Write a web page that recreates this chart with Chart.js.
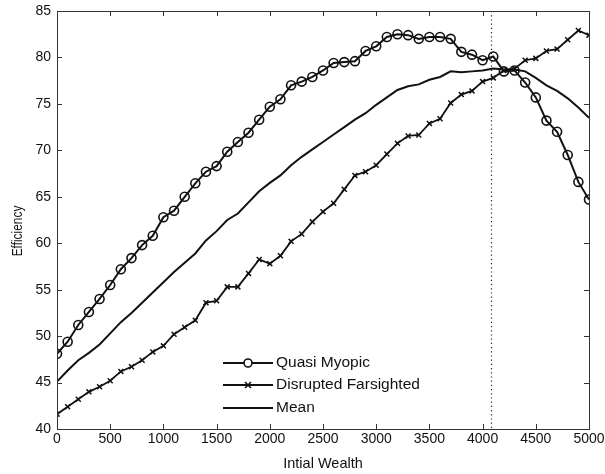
<!DOCTYPE html>
<html>
<head>
<meta charset="utf-8">
<script src="https://cdn.jsdelivr.net/npm/chart.js@4/dist/chart.umd.min.js"></script>
<style>
  html, body { margin: 0; padding: 0; background: #fff; }
  #wrap { width: 605px; height: 474px; position: relative; }
</style>
</head>
<body>
<div id="wrap"><canvas id="c" width="605" height="474"></canvas></div>
<script>
// Initial wealth levels (x values)
const wealth = [0, 100, 200, 300, 400, 500, 600, 700, 800, 900,
  1000, 1100, 1200, 1300, 1400, 1500, 1600, 1700, 1800, 1900,
  2000, 2100, 2200, 2300, 2400, 2500, 2600, 2700, 2800, 2900,
  3000, 3100, 3200, 3300, 3400, 3500, 3600, 3700, 3800, 3900,
  4000, 4100, 4200, 4300, 4400, 4500, 4600, 4700, 4800, 4900, 5000];

const quasiMyopic = [48.1, 49.4, 51.2, 52.6, 54.0, 55.5, 57.2, 58.4, 59.8, 60.8,
  62.8, 63.5, 65.0, 66.45, 67.7, 68.3, 69.85, 70.9, 71.9, 73.3,
  74.7, 75.5, 77.0, 77.4, 77.9, 78.6, 79.4, 79.5, 79.6, 80.7,
  81.2, 82.2, 82.5, 82.4, 82.0, 82.2, 82.2, 82.0, 80.6, 80.3,
  79.7, 80.1, 78.5, 78.6, 77.3, 75.7, 73.2, 72.0, 69.5, 66.6, 64.7];

const disruptedFarsighted = [41.6, 42.4, 43.2, 44.0, 44.55, 45.2, 46.2, 46.7, 47.4, 48.3,
  48.95, 50.2, 50.95, 51.7, 53.6, 53.8, 55.3, 55.3, 56.75, 58.25,
  57.8, 58.65, 60.2, 61.0, 62.3, 63.4, 64.3, 65.8, 67.3, 67.7,
  68.4, 69.6, 70.75, 71.55, 71.65, 72.9, 73.4, 75.1, 76.0, 76.4,
  77.4, 77.8, 78.6, 78.8, 79.7, 79.9, 80.7, 80.9, 81.9, 82.9, 82.4];

const meanEfficiency = [45.1, 46.3, 47.4, 48.2, 49.1, 50.3, 51.5, 52.5, 53.6, 54.7,
  55.8, 56.9, 57.9, 58.9, 60.3, 61.3, 62.5, 63.2, 64.4, 65.6,
  66.5, 67.3, 68.4, 69.3, 70.1, 70.9, 71.7, 72.5, 73.3, 74.0,
  74.9, 75.7, 76.5, 76.9, 77.1, 77.6, 77.9, 78.5, 78.4, 78.5,
  78.6, 78.8, 78.7, 78.7, 78.5, 77.8, 77.0, 76.4, 75.6, 74.6, 73.5];

const seriesNames = ['Quasi Myopic', 'Disrupted Farsighted', 'Mean'];
const xTicks = [0, 500, 1000, 1500, 2000, 2500, 3000, 3500, 4000, 4500, 5000];
const yTicks = [40, 45, 50, 55, 60, 65, 70, 75, 80, 85];
const markerWealth = 4075;
const xTitle = 'Intial Wealth';
const yTitle = 'Efficiency';

const FONT = "'Liberation Sans', Arial, sans-serif";
const INK = '#111';
const AXIS = '#333';

const toPoints = vals => wealth.map((w, i) => ({ x: w, y: vals[i] }));

// Box frame, inward tick marks and the dotted reference line
const framePlugin = {
  id: 'frame',
  afterDatasetsDraw(chart) {
    const { ctx, chartArea: a, scales: { x, y } } = chart;
    ctx.save();
    const vx = Math.round(x.getPixelForValue(markerWealth)) + 0.5;
    ctx.strokeStyle = '#222';
    ctx.lineWidth = 1.2;
    ctx.setLineDash([1.2, 3]);
    ctx.beginPath();
    ctx.moveTo(vx, a.top);
    ctx.lineTo(vx, a.bottom);
    ctx.stroke();
    ctx.setLineDash([]);
    ctx.strokeStyle = AXIS;
    ctx.lineWidth = 1;
    ctx.strokeRect(Math.round(a.left) + 0.5, Math.round(a.top) + 0.5,
      Math.round(a.right - a.left), Math.round(a.bottom - a.top));
    const tl = 5;
    ctx.beginPath();
    xTicks.forEach(v => {
      const px = Math.round(x.getPixelForValue(v)) + 0.5;
      ctx.moveTo(px, a.bottom); ctx.lineTo(px, a.bottom - tl);
      ctx.moveTo(px, a.top); ctx.lineTo(px, a.top + tl);
    });
    yTicks.forEach(v => {
      const py = Math.round(y.getPixelForValue(v)) + 0.5;
      ctx.moveTo(a.left, py); ctx.lineTo(a.left + tl, py);
      ctx.moveTo(a.right, py); ctx.lineTo(a.right - tl, py);
    });
    ctx.stroke();
    ctx.restore();
  }
};

// Vertical axis title, slightly condensed
const yTitlePlugin = {
  id: 'yTitle',
  afterDraw(chart) {
    const { ctx, chartArea: a } = chart;
    ctx.save();
    ctx.translate(18, (a.top + a.bottom) / 2 + 11);
    ctx.rotate(-Math.PI / 2);
    ctx.scale(0.85, 1);
    ctx.font = '14px ' + FONT;
    ctx.fillStyle = INK;
    ctx.textAlign = 'center';
    ctx.textBaseline = 'middle';
    ctx.fillText(yTitle, 0, 0);
    ctx.restore();
  }
};

// Legend drawn inside the plot, lower-left
const legendPlugin = {
  id: 'innerLegend',
  afterDraw(chart) {
    const { ctx, chartArea: a } = chart;
    const x0 = a.left + 166, x1 = a.left + 216;
    const rows = [a.bottom - 66, a.bottom - 44, a.bottom - 21];
    ctx.save();
    ctx.font = '15.5px ' + FONT;
    ctx.textBaseline = 'middle';
    chart.data.datasets.forEach((ds, i) => {
      const yy = rows[i];
      ctx.strokeStyle = INK;
      ctx.lineWidth = 2;
      ctx.beginPath();
      ctx.moveTo(x0, yy); ctx.lineTo(x1, yy);
      ctx.stroke();
      const mx = (x0 + x1) / 2;
      if (ds.pointStyle === 'circle' && ds.pointRadius > 0) {
        ctx.fillStyle = '#fff';
        ctx.beginPath(); ctx.arc(mx, yy, 4, 0, Math.PI * 2); ctx.fill();
        ctx.lineWidth = 1.6; ctx.stroke();
      } else if (ds.pointStyle === 'crossRot' && ds.pointRadius > 0) {
        ctx.lineWidth = 1.6;
        ctx.beginPath();
        ctx.moveTo(mx - 3, yy - 3); ctx.lineTo(mx + 3, yy + 3);
        ctx.moveTo(mx - 3, yy + 3); ctx.lineTo(mx + 3, yy - 3);
        ctx.stroke();
      }
      ctx.fillStyle = INK;
      ctx.fillText(ds.label, x1 + 3, yy);
    });
    ctx.restore();
  }
};

new Chart(document.getElementById('c'), {
  type: 'line',
  data: {
    datasets: [
      {
        label: seriesNames[0],
        data: toPoints(quasiMyopic),
        borderColor: INK, borderWidth: 2,
        pointStyle: 'circle', pointRadius: 4.5,
        pointBorderColor: INK, pointBorderWidth: 1.6,
        pointBackgroundColor: 'rgba(255,255,255,0)',
        tension: 0
      },
      {
        label: seriesNames[1],
        data: toPoints(disruptedFarsighted),
        borderColor: INK, borderWidth: 1.8,
        pointStyle: 'crossRot', pointRadius: 3.5,
        pointBorderColor: INK, pointBorderWidth: 1.5,
        tension: 0
      },
      {
        label: seriesNames[2],
        data: toPoints(meanEfficiency),
        borderColor: INK, borderWidth: 2,
        pointRadius: 0,
        tension: 0
      }
    ]
  },
  options: {
    responsive: false,
    animation: false,
    devicePixelRatio: 1,
    layout: { padding: { top: 11, right: 16, left: 0, bottom: 0 } },
    plugins: {
      legend: { display: false },
      tooltip: { enabled: false }
    },
    scales: {
      x: {
        type: 'linear',
        min: 0, max: 5000,
        afterBuildTicks: s => { s.ticks = xTicks.map(v => ({ value: v })); },
        afterFit: s => { s.height = 45; s.paddingLeft = 0; s.paddingRight = 0; },
        grid: { display: false, drawTicks: false },
        border: { display: false },
        ticks: {
          color: INK, font: { family: FONT, size: 14 }, padding: 2, maxRotation: 0,
          callback: v => String(v)
        },
        title: {
          display: true, text: xTitle, color: INK,
          font: { family: FONT, size: 14.5 }, padding: { top: 0, bottom: 1 }
        }
      },
      y: {
        min: 40, max: 85,
        afterBuildTicks: s => { s.ticks = yTicks.map(v => ({ value: v })); },
        afterFit: s => { s.width = 57; s.paddingTop = 0; s.paddingBottom = 0; },
        grid: { display: false, drawTicks: false },
        border: { display: false },
        ticks: {
          color: INK, font: { family: FONT, size: 14 }, padding: 6,
          callback: v => String(v)
        },
        title: { display: false }
      }
    }
  },
  plugins: [framePlugin, legendPlugin, yTitlePlugin]
});
</script>
</body>
</html>
